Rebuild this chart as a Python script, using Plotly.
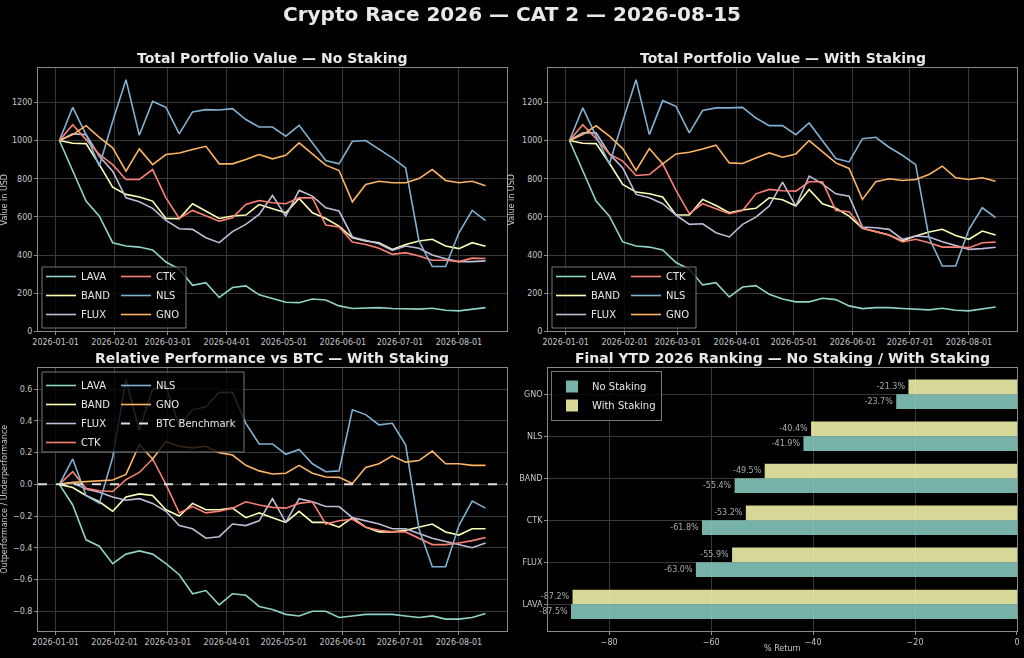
import pandas as pd
import plotly.graph_objects as go
from plotly.subplots import make_subplots

# weekly snapshots (Saturdays) 2026-01-03 .. 2026-08-15
dates = pd.date_range("2026-01-03", "2026-08-15", freq="7D")

tokens = ["LAVA", "BAND", "FLUX", "CTK", "NLS", "GNO"]
colors = ["#8dd3c7", "#feffb3", "#bfbbd9", "#fa8174", "#81b1d2", "#fdb462"]

# Portfolio value in USD, no staking
lava_ns = [1000, 840, 683, 604, 465, 448, 442, 427, 364, 326, 242, 256, 178, 230, 239, 192, 172,
           153, 151, 170, 165, 134, 120, 123, 125, 120, 118, 117, 122, 111, 108, 115, 125]
band_ns = [1000, 986, 984, 874, 756, 718, 704, 683, 592, 591, 669, 631, 592, 605, 610, 665, 645,
           622, 697, 622, 592, 552, 491, 474, 465, 430, 456, 474, 483, 448, 434, 465, 446]
flux_ns = [1000, 1035, 1031, 918, 840, 700, 679, 645, 582, 538, 535, 491, 465, 523, 561, 613, 712,
           604, 739, 709, 648, 631, 495, 477, 460, 425, 448, 436, 401, 381, 366, 366, 370]
ctk_ns = [1000, 1083, 1005, 927, 874, 796, 796, 848, 700, 592, 634, 604, 578, 596, 665, 686, 674,
          669, 700, 700, 557, 547, 469, 456, 436, 404, 413, 395, 373, 373, 366, 384, 382]
nls_ns = [1000, 1174, 1031, 866, 1101, 1319, 1028, 1205, 1174, 1035, 1150, 1162, 1160, 1167, 1110, 1071, 1071,
          1023, 1080, 988, 895, 878, 996, 1000, 953, 909, 857, 474, 340, 340, 517, 634, 581]
gno_ns = [1000, 1031, 1078, 1017, 962, 840, 956, 874, 927, 935, 953, 970, 878, 878, 901, 927, 904,
          923, 988, 927, 871, 843, 679, 770, 787, 779, 779, 801, 848, 791, 779, 787, 763]

# Portfolio value in USD, with staking
lava_ws = [1000, 840, 683, 604, 469, 448, 442, 427, 361, 326, 244, 256, 181, 233, 240, 195, 170,
           155, 155, 174, 167, 134, 120, 125, 125, 120, 117, 113, 122, 111, 108, 117, 128]
band_ws = [1000, 986, 984, 881, 770, 730, 721, 704, 610, 610, 692, 660, 622, 636, 645, 700, 690,
           657, 744, 669, 645, 604, 540, 523, 505, 474, 500, 521, 535, 503, 483, 526, 505]
flux_ws = [1000, 1040, 1040, 930, 857, 718, 700, 669, 610, 561, 564, 517, 495, 561, 599, 657, 782,
           657, 814, 773, 721, 709, 547, 543, 535, 483, 500, 495, 470, 448, 430, 434, 441]
ctk_ws = [1000, 1083, 1010, 930, 892, 817, 822, 878, 739, 617, 669, 645, 617, 634, 721, 744, 737,
          735, 784, 784, 634, 627, 540, 523, 505, 469, 483, 465, 442, 442, 439, 465, 468]
nls_ws = [1000, 1171, 1023, 878, 1101, 1319, 1031, 1209, 1179, 1040, 1157, 1171, 1171, 1174, 1118, 1078, 1078,
          1031, 1092, 996, 906, 888, 1010, 1017, 965, 923, 874, 491, 343, 343, 535, 648, 596]
gno_ws = [1000, 1031, 1077, 1023, 958, 843, 958, 878, 930, 939, 956, 976, 883, 880, 909, 935, 913,
          930, 1000, 941, 883, 854, 692, 784, 800, 791, 796, 822, 866, 805, 796, 805, 787]

# Relative performance vs BTC (with staking)
lava_rel = [0, -0.13, -0.35, -0.39, -0.50, -0.44, -0.42, -0.44, -0.50, -0.57, -0.69, -0.67, -0.76, -0.69, -0.70, -0.77, -0.79,
            -0.82, -0.83, -0.80, -0.80, -0.84, -0.83, -0.82, -0.82, -0.82, -0.83, -0.84, -0.83, -0.85, -0.85, -0.84, -0.815]
band_rel = [0, -0.02, -0.07, -0.11, -0.17, -0.08, -0.06, -0.07, -0.16, -0.20, -0.12, -0.16, -0.16, -0.15, -0.21, -0.18, -0.21,
            -0.24, -0.17, -0.24, -0.24, -0.27, -0.21, -0.27, -0.30, -0.30, -0.29, -0.27, -0.25, -0.30, -0.32, -0.28, -0.28]
flux_rel = [0, 0.01, -0.03, -0.05, -0.08, -0.10, -0.09, -0.12, -0.17, -0.26, -0.28, -0.34, -0.33, -0.25, -0.26, -0.23, -0.09,
            -0.24, -0.09, -0.11, -0.14, -0.14, -0.21, -0.23, -0.25, -0.28, -0.28, -0.31, -0.34, -0.36, -0.38, -0.40, -0.37]
ctk_rel = [0, 0.08, -0.025, -0.04, -0.045, 0.03, 0.075, 0.16, 0.0, -0.18, -0.14, -0.18, -0.17, -0.15, -0.11, -0.13, -0.145,
           -0.15, -0.12, -0.11, -0.25, -0.23, -0.22, -0.27, -0.29, -0.30, -0.30, -0.34, -0.38, -0.38, -0.37, -0.355, -0.335]
nls_rel = [0, 0.16, -0.07, -0.12, 0.17, 0.66, 0.34, 0.60, 0.62, 0.37, 0.47, 0.49, 0.58, 0.58, 0.385, 0.255, 0.255,
           0.19, 0.22, 0.13, 0.08, 0.085, 0.47, 0.44, 0.375, 0.385, 0.25, -0.28, -0.52, -0.52, -0.26, -0.105, -0.15]
gno_rel = [0, 0.013, 0.017, 0.02, 0.027, 0.063, 0.25, 0.16, 0.27, 0.24, 0.23, 0.24, 0.20, 0.185, 0.12, 0.085, 0.065,
           0.07, 0.12, 0.07, 0.046, 0.044, 0.005, 0.107, 0.13, 0.18, 0.14, 0.15, 0.21, 0.13, 0.13, 0.12, 0.12]
btc_benchmark = 0.0

# Final YTD ranking (% return), bottom to top
rank_tokens = ["LAVA", "FLUX", "CTK", "BAND", "NLS", "GNO"]
ret_no_staking = [-87.5, -63.0, -61.8, -55.4, -41.9, -23.7]
ret_with_staking = [-87.2, -55.9, -53.2, -49.5, -40.4, -21.3]

series_ns = [lava_ns, band_ns, flux_ns, ctk_ns, nls_ns, gno_ns]
series_ws = [lava_ws, band_ws, flux_ws, ctk_ws, nls_ws, gno_ws]
series_rel = [lava_rel, band_rel, flux_rel, ctk_rel, nls_rel, gno_rel]

FONT = "DejaVu Sans"
TXT = "#e8e8e8"
TICK = "#c8c8c8"
GRID = "#383838"
SPINE = "#8a8a8a"

# figure px -> paper coords (plot area: x 38..1017, y 68..631)
def px_x(p):
    return (p - 38) / 979


def px_y(p):
    return (631 - p) / 563


fig = make_subplots(
    rows=2, cols=2,
    horizontal_spacing=0.042, vertical_spacing=0.064,
    subplot_titles=(
        "<b>Total Portfolio Value — No Staking</b>",
        "<b>Total Portfolio Value — With Staking</b>",
        "<b>Relative Performance vs BTC — With Staking</b>",
        "<b>Final YTD 2026 Ranking — No Staking / With Staking</b>",
    ),
)

# matplotlib ncol=2 legends -> two single-column plotly legends per panel
leg_top1 = {"LAVA": "legend", "BAND": "legend", "FLUX": "legend",
            "CTK": "legend5", "NLS": "legend5", "GNO": "legend5"}
leg_top2 = {"LAVA": "legend2", "BAND": "legend2", "FLUX": "legend2",
            "CTK": "legend6", "NLS": "legend6", "GNO": "legend6"}
leg_rel = {"LAVA": "legend3", "BAND": "legend3", "FLUX": "legend3", "CTK": "legend3",
           "NLS": "legend7", "GNO": "legend7"}

for i, name in enumerate(tokens):
    line = dict(color=colors[i], width=1.6)
    fig.add_trace(go.Scatter(x=dates, y=series_ns[i], name=name, mode="lines", line=line,
                             legend=leg_top1[name]), row=1, col=1)
    fig.add_trace(go.Scatter(x=dates, y=series_ws[i], name=name, mode="lines", line=line,
                             legend=leg_top2[name]), row=1, col=2)
    fig.add_trace(go.Scatter(x=dates, y=series_rel[i], name=name, mode="lines", line=line,
                             legend=leg_rel[name]), row=2, col=1)

fig.add_shape(type="line", xref="x3 domain", yref="y3", x0=0, x1=1, y0=btc_benchmark, y1=btc_benchmark,
              line=dict(color="#dddddd", width=2, dash="dash"),
              showlegend=True, name="BTC Benchmark", legend="legend7")

fig.add_trace(go.Bar(y=rank_tokens, x=ret_no_staking, orientation="h", name="No Staking",
                     marker=dict(color="#8dd3c7", line=dict(width=0)), opacity=0.85,
                     text=[f"{v:.1f}%" for v in ret_no_staking], textposition="outside",
                     textfont=dict(size=8, color=TICK), cliponaxis=False,
                     legend="legend4"), row=2, col=2)
fig.add_trace(go.Bar(y=rank_tokens, x=ret_with_staking, orientation="h", name="With Staking",
                     marker=dict(color="#feffb3", line=dict(width=0)), opacity=0.85,
                     text=[f"{v:.1f}%" for v in ret_with_staking], textposition="outside",
                     textfont=dict(size=8, color=TICK), cliponaxis=False,
                     legend="legend4"), row=2, col=2)

axis_style = dict(showgrid=True, gridcolor=GRID, gridwidth=1, zeroline=False,
                  showline=True, linecolor=SPINE, linewidth=1, mirror=True,
                  ticks="outside", ticklen=3, tickcolor=SPINE,
                  tickfont=dict(size=8, color=TICK, family=FONT), automargin=False)

date_range = ["2025-12-22 18:00", "2026-08-26 06:00"]
for r, c in [(1, 1), (1, 2), (2, 1)]:
    fig.update_xaxes(axis_style, row=r, col=c, type="date", range=date_range,
                     tick0="2026-01-01", dtick="M1", tickformat="%Y-%m-%d")

ytitle = dict(font=dict(size=8, color=TICK, family=FONT), standoff=6)
fig.update_yaxes(axis_style, row=1, col=1, range=[0, 1380], dtick=200,
                 title=dict(text="Value in USD", **ytitle))
fig.update_yaxes(axis_style, row=1, col=2, range=[0, 1380], dtick=200,
                 title=dict(text="Value in USD", **ytitle))
fig.update_yaxes(axis_style, row=2, col=1, range=[-0.925, 0.737], dtick=0.2, tickformat=".1f",
                 title=dict(text="Outperformance / Underperformance", **ytitle))
fig.update_xaxes(axis_style, row=2, col=2, range=[-92, 0], dtick=20)
fig.update_yaxes(axis_style, row=2, col=2, range=[-0.635, 5.635])

legend_style = dict(bgcolor="rgba(0,0,0,0)", borderwidth=0,
                    font=dict(size=10, color=TXT, family=FONT),
                    orientation="v", tracegroupgap=0, itemwidth=30, traceorder="normal")

fig.update_layout(
    width=1024, height=658,
    margin=dict(l=38, r=7, t=68, b=27),
    paper_bgcolor="black", plot_bgcolor="black",
    font=dict(family=FONT, color=TXT),
    barmode="group", bargap=0.3, bargroupgap=0,
    legend=dict(legend_style, x=px_x(41), y=px_y(329), xanchor="left", yanchor="bottom"),
    legend5=dict(legend_style, x=px_x(116), y=px_y(329), xanchor="left", yanchor="bottom"),
    legend2=dict(legend_style, x=px_x(551), y=px_y(329), xanchor="left", yanchor="bottom"),
    legend6=dict(legend_style, x=px_x(626), y=px_y(329), xanchor="left", yanchor="bottom"),
    legend3=dict(legend_style, x=px_x(41), y=px_y(371), xanchor="left", yanchor="top"),
    legend7=dict(legend_style, x=px_x(116), y=px_y(371), xanchor="left", yanchor="top"),
    legend4=dict(legend_style, x=px_x(551), y=px_y(371), xanchor="left", yanchor="top",
                 bgcolor="rgba(0,0,0,0.8)", bordercolor="#777777", borderwidth=1),
)

# frames behind the two-column legends
for x0, y0, x1, y1 in [(42, 267, 186, 328), (552, 267, 696, 328), (42, 372, 244, 452)]:
    fig.add_shape(type="rect", xref="paper", yref="paper",
                  x0=px_x(x0), x1=px_x(x1), y0=px_y(y1), y1=px_y(y0),
                  fillcolor="rgba(0,0,0,0.8)", line=dict(color="#777777", width=1), layer="above")

for ann in fig.layout.annotations:
    ann.font = dict(size=14, color=TXT, family=FONT)

fig.add_annotation(text="<b>Crypto Race 2026 — CAT 2 — 2026-08-15</b>", xref="paper", yref="paper",
                   x=px_x(512), y=px_y(14), xanchor="center", yanchor="middle", showarrow=False,
                   font=dict(size=20, color=TXT, family=FONT))
fig.add_annotation(text="% Return", xref="x4 domain", yref="paper", x=0.5, y=px_y(648),
                   xanchor="center", yanchor="middle", showarrow=False,
                   font=dict(size=8, color=TICK, family=FONT))

fig.write_html("out.html", config={"displayModeBar": False},
               post_script="document.body.style.margin='0';document.body.style.background='black';")
